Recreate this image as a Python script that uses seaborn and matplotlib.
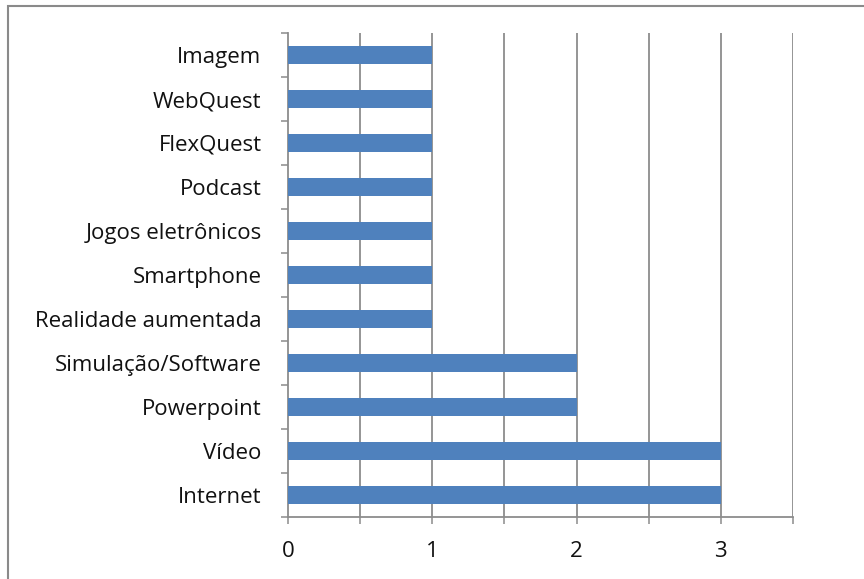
import matplotlib
matplotlib.use("Agg")
import matplotlib.pyplot as plt
import matplotlib.patches as mpatches
from matplotlib.ticker import FixedLocator
import pandas as pd
import seaborn as sns

# data
recursos = ["Imagem", "WebQuest", "FlexQuest", "Podcast", "Jogos eletrônicos",
            "Smartphone", "Realidade aumentada", "Simulação/Software",
            "Powerpoint", "Vídeo", "Internet"]
contagens = [1, 1, 1, 1, 1, 1, 1, 2, 2, 3, 3]
x_ticks = [0, 1, 2, 3]

df = pd.DataFrame({"recurso": recursos, "n": contagens})

sns.set_theme(style="white")
plt.rcParams["font.family"] = ["Open Sans", "DejaVu Sans"]

grid_col = "#8c8c8c"
bar_col = "#4f81bd"

fig = plt.figure(figsize=(8.64, 5.79), dpi=100)
ax = fig.add_axes([0.3333, 0.1071, 0.9178 - 0.3333, 0.943 - 0.1071])

sns.barplot(data=df, x="n", y="recurso", orient="h", color=bar_col,
            width=0.4, saturation=1, linewidth=0, ax=ax, zorder=3)

ax.set_xlim(0, 3.5)
ax.set_ylim(len(recursos) - 0.5, -0.5)

# x axis: labels on integers, ticks and grid every 0.5
ax.xaxis.set_major_locator(FixedLocator(x_ticks))
ax.xaxis.set_minor_locator(FixedLocator([0.5, 1.5, 2.5, 3.5]))
ax.tick_params(axis="x", which="both", direction="out", length=5, width=1.1,
               color=grid_col, bottom=True, pad=12, labelsize=16)
for v in [0.5, 1, 1.5, 2, 2.5, 3, 3.5]:
    ax.axvline(v, color=grid_col, lw=1.3, zorder=1)

# y axis: ticks between categories
ax.yaxis.set_minor_locator(FixedLocator([i - 0.5 for i in range(len(recursos) + 1)]))
ax.tick_params(axis="y", which="major", length=0, pad=19, labelsize=16)
ax.tick_params(axis="y", which="minor", direction="out", length=5, width=1.1,
               color=grid_col, left=True)

for s in ["top", "right"]:
    ax.spines[s].set_visible(False)
for s in ["left", "bottom"]:
    ax.spines[s].set_color(grid_col)
    ax.spines[s].set_linewidth(1.3)

ax.set_xlabel("")
ax.set_ylabel("")
for lab in ax.get_xticklabels() + ax.get_yticklabels():
    lab.set_color("#111111")

# outer chart frame
frame = mpatches.Rectangle((8 / 864, -0.02), 1.05, 1 - 6 / 579 + 0.02,
                           transform=fig.transFigure, fill=False,
                           edgecolor="#8a8a8a", lw=1.5, clip_on=False)
fig.patches.append(frame)

fig.savefig("out.png", dpi=100)
